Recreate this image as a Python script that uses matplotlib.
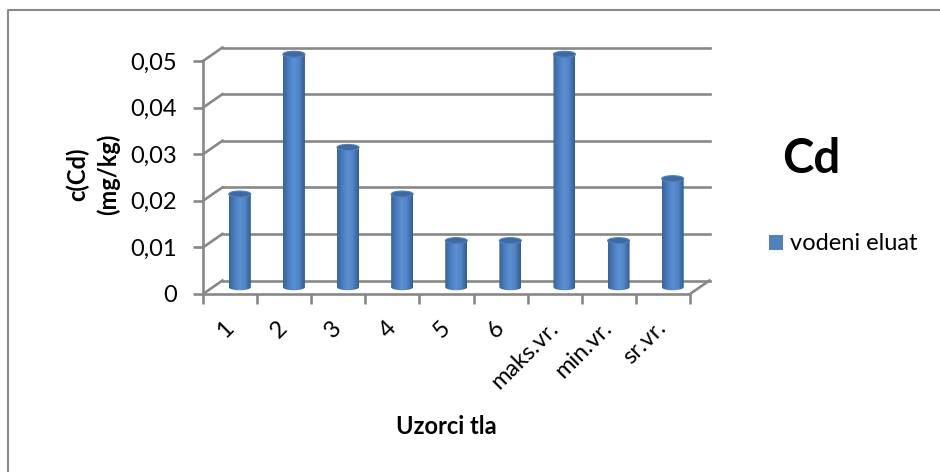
import numpy as np
import matplotlib.pyplot as plt
from matplotlib.patches import Ellipse, PathPatch, Rectangle
from matplotlib.path import Path
from matplotlib.colors import LinearSegmentedColormap
from matplotlib.lines import Line2D

# -----------------------------
# Data
# -----------------------------
categories = ["1", "2", "3", "4", "5", "6", "maks.vr.", "min.vr.", "sr.vr."]
values = [0.02, 0.05, 0.03, 0.02, 0.01, 0.01, 0.05, 0.01, 0.0233]
y_ticks = [0, 0.01, 0.02, 0.03, 0.04, 0.05]
y_tick_labels = ["0", "0,01", "0,02", "0,03", "0,04", "0,05"]
series_name = "vodeni eluat"

plt.rcParams["font.family"] = ["Lato", "DejaVu Sans"]

W, H = 940, 472
fig = plt.figure(figsize=(W / 100, H / 100), dpi=100)

# front plane of the 3d box, in pixels
x0, x1 = 203, 690
y_top, y_bot = 61, 294
ax = fig.add_axes([x0 / W, (H - y_bot) / H, (x1 - x0) / W, (y_bot - y_top) / H])
n = len(categories)
ax.set_xlim(0, n)
ax.set_ylim(0, 0.05)

px_x = (x1 - x0) / n          # pixels per category
px_y = (y_bot - y_top) / 0.05  # pixels per value unit
DX = 19.5 / px_x               # depth offset in data units
DY = 13.5 / px_y

grid_c = "#888888"
lw = 1.9

# back wall gridlines + diagonals
for v in y_ticks:
    ax.add_line(Line2D([DX, n + DX], [v + DY, v + DY], color=grid_c, lw=lw, clip_on=False, zorder=1))
    ax.add_line(Line2D([0, DX], [v, v + DY], color=grid_c, lw=lw, clip_on=False, zorder=1))
# floor right edge
ax.add_line(Line2D([n, n + DX], [0, DY], color=grid_c, lw=lw, clip_on=False, zorder=1))

# spines / ticks
for s in ["top", "right"]:
    ax.spines[s].set_visible(False)
for s in ["left", "bottom"]:
    ax.spines[s].set_color(grid_c)
    ax.spines[s].set_linewidth(lw)
    ax.spines[s].set_zorder(2)
ax.patch.set_alpha(0)

ax.set_yticks(y_ticks)
ax.set_yticklabels(y_tick_labels)
ax.set_xticks(np.arange(n + 1))
ax.set_xticklabels([])
ax.set_xticks(np.arange(n) + 0.5, minor=True)
ax.set_xticklabels(categories, minor=True)
ax.tick_params(axis="y", length=7, width=lw, color=grid_c, pad=12, labelsize=17)
ax.tick_params(axis="x", which="major", length=7, width=lw, color=grid_c)
ax.tick_params(axis="x", which="minor", length=0, pad=22, labelsize=17)
for lab in ax.get_xticklabels(minor=True):
    lab.set_rotation(45)
    lab.set_rotation_mode("anchor")
    lab.set_ha("right")
    lab.set_va("center")

# cylinders
cmap = LinearSegmentedColormap.from_list(
    "cyl", ["#37649c", "#4a7dbd", "#5b90d2", "#4f83c3", "#325b91"])
grad = np.linspace(0, 1, 64).reshape(1, -1)
bw = 22 / px_x
eh = 6 / px_y
k = 0.5523
for i, v in enumerate(values):
    xc = i + 0.5 + DX / 2
    base = DY / 2
    top = v + DY / 2
    l, r = xc - bw / 2, xc + bw / 2
    verts = [(l, top), (l, base),
             (l, base - eh / 2 * k), (xc - bw / 2 * k, base - eh / 2), (xc, base - eh / 2),
             (xc + bw / 2 * k, base - eh / 2), (r, base - eh / 2 * k), (r, base),
             (r, top), (l, top)]
    codes = [Path.MOVETO, Path.LINETO,
             Path.CURVE4, Path.CURVE4, Path.CURVE4,
             Path.CURVE4, Path.CURVE4, Path.CURVE4,
             Path.LINETO, Path.CLOSEPOLY]
    body = PathPatch(Path(verts, codes), facecolor="none", edgecolor="none",
                     transform=ax.transData, zorder=3, clip_on=False)
    ax.add_patch(body)
    im = ax.imshow(grad, cmap=cmap, aspect="auto", extent=[l, r, base - eh, top],
                   zorder=3, interpolation="bilinear")
    im.set_clip_box(fig.bbox)
    im.set_clip_path(body)
    ax.add_patch(Ellipse((xc, top), bw, eh, facecolor="#3e6aa4", edgecolor="#4f80bf",
                         lw=0.8, zorder=4, clip_on=False))

ax.set_xlim(0, n)
ax.set_ylim(0, 0.05)

# axis titles
fig.text(93 / W, 1 - 174 / H, "c(Cd)\n(mg/kg)", rotation=90, ha="center", va="center",
         fontsize=17, fontweight="bold", linespacing=1.35)
fig.text(446 / W, 1 - 426 / H, "Uzorci tla", ha="center", va="center",
         fontsize=17, fontweight="bold")
fig.text(811 / W, 1 - 159 / H, "Cd", ha="center", va="center",
         fontsize=34, fontweight="bold")

# legend
handle = Rectangle((0, 0), 1, 1, facecolor="#4f81bd", edgecolor="none")
fig.legend([handle], [series_name], loc="center left",
           bbox_to_anchor=(769 / W, 1 - 244 / H), frameon=False, fontsize=17,
           handlelength=0.6, handleheight=0.6, handletextpad=0.3,
           borderpad=0, borderaxespad=0)

# chart area border (only left and top visible)
fig.add_artist(Line2D([8 / W, 8 / W, 1], [0, 1 - 10 / H, 1 - 10 / H],
                      transform=fig.transFigure, color="#8a8a8a", lw=1.5))

fig.savefig("out.png", dpi=100)
